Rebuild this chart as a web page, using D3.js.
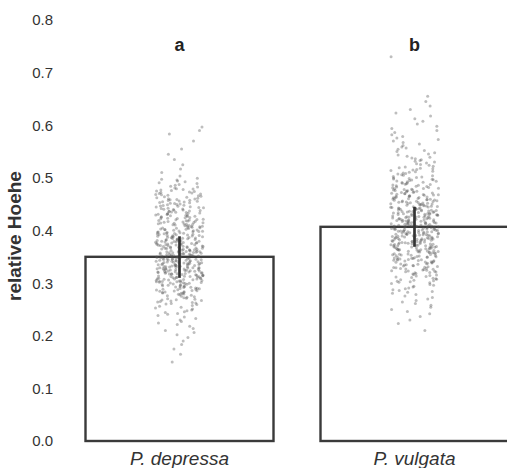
<!DOCTYPE html>
<html>
<head>
<meta charset="utf-8">
<script src="https://cdn.jsdelivr.net/npm/d3@7"></script>
<style>
html,body{margin:0;padding:0;background:#fff;}
svg{display:block;font-family:"Liberation Sans",Arial,sans-serif;}
</style>
</head>
<body>
<svg id="chart" width="507" height="468"></svg>
<script>
// ---- data ----
const categories = ["P. depressa", "P. vulgata"];
const means = [0.350, 0.407];
const ciLow = [0.310, 0.369];
const ciHigh = [0.389, 0.445];
const sigLetters = ["a", "b"];
const letterLevel = 0.75;
const yTicks = [0.0, 0.1, 0.2, 0.3, 0.4, 0.5, 0.6, 0.7, 0.8];
const binWidth = 0.02;
const binStartDepressa = 0.14;
const countsDepressa = [1, 2, 3, 5, 7, 12, 22, 34, 46, 52, 52, 48, 42, 36, 32, 28, 22, 12, 3, 2, 2, 1, 3];
const binStartVulgata = 0.20;
const countsVulgata = [1, 3, 5, 7, 12, 20, 30, 38, 46, 50, 50, 46, 40, 34, 26, 18, 13, 9, 7, 5, 4, 3, 2, 0, 0, 0, 1];

// ---- layout ----
const svg = d3.select("#chart");
const y = d3.scaleLinear().domain([0, 0.8]).range([441, 20]);
const x = d3.scaleBand().domain(categories).range([62, 532]).paddingInner(0.2).paddingOuter(0.1);
const barW = x.bandwidth();
const cx = d => x(d) + barW / 2;

// deterministic jitter hash (position only, not data)
function hash(n) {
  let h = (n * 2654435761) >>> 0;
  h ^= h >>> 16; h = Math.imul(h, 2246822507) >>> 0;
  h ^= h >>> 13; h = Math.imul(h, 3266489909) >>> 0;
  h ^= h >>> 16;
  return (h >>> 0) / 4294967296;
}

// expand bins to points
function expand(start, counts, seed) {
  const pts = [];
  let k = 0;
  counts.forEach((n, bi) => {
    for (let i = 0; i < n; i++) {
      pts.push({ v: start + bi * binWidth + (i + 0.5) / n * binWidth, k: seed + k++ });
    }
  });
  return pts;
}
const groups = [
  expand(binStartDepressa, countsDepressa, 1000),
  expand(binStartVulgata, countsVulgata, 5000)
];

// bars
svg.append("g").selectAll("rect").data(categories).join("rect")
  .attr("x", d => x(d))
  .attr("y", (d, i) => y(means[i]))
  .attr("width", barW)
  .attr("height", (d, i) => y(0) - y(means[i]))
  .attr("fill", "#fff")
  .attr("stroke", "#3a3a3a")
  .attr("stroke-width", 2.4);

// strip points
const jitter = 24;
categories.forEach((c, gi) => {
  svg.append("g").selectAll("circle").data(groups[gi]).join("circle")
    .attr("cx", d => cx(c) + (hash(d.k) - 0.5) * 2 * jitter)
    .attr("cy", d => y(d.v))
    .attr("r", 1.5)
    .attr("fill", "#555")
    .attr("fill-opacity", 0.38);
});

// error bars
svg.append("g").selectAll("line").data(categories).join("line")
  .attr("x1", d => cx(d)).attr("x2", d => cx(d))
  .attr("y1", (d, i) => y(ciLow[i]))
  .attr("y2", (d, i) => y(ciHigh[i]))
  .attr("stroke", "#333")
  .attr("stroke-width", 2.7);

// y ticks
svg.append("g").selectAll("text").data(yTicks).join("text")
  .attr("x", 53)
  .attr("y", d => y(d))
  .attr("dy", "0.36em")
  .attr("text-anchor", "end")
  .attr("font-size", 15)
  .attr("fill", "#333")
  .text(d => d3.format(".1f")(d));

// x labels
svg.append("g").selectAll("text").data(categories).join("text")
  .attr("x", d => cx(d))
  .attr("y", 465)
  .attr("text-anchor", "middle")
  .attr("font-size", 19)
  .attr("font-style", "italic")
  .attr("fill", "#333")
  .text(d => d);

// y label
svg.append("text")
  .attr("transform", "translate(21," + 236 + ") rotate(-90)")
  .attr("text-anchor", "middle")
  .attr("font-size", 19)
  .attr("font-weight", "bold")
  .attr("fill", "#333")
  .text("relative Hoehe");

// significance letters
svg.append("g").selectAll("text").data(categories).join("text")
  .attr("x", d => cx(d))
  .attr("y", y(letterLevel) + 5)
  .attr("text-anchor", "middle")
  .attr("font-size", 18)
  .attr("font-weight", "bold")
  .attr("fill", "#222")
  .text((d, i) => sigLetters[i]);
</script>
</body>
</html>
